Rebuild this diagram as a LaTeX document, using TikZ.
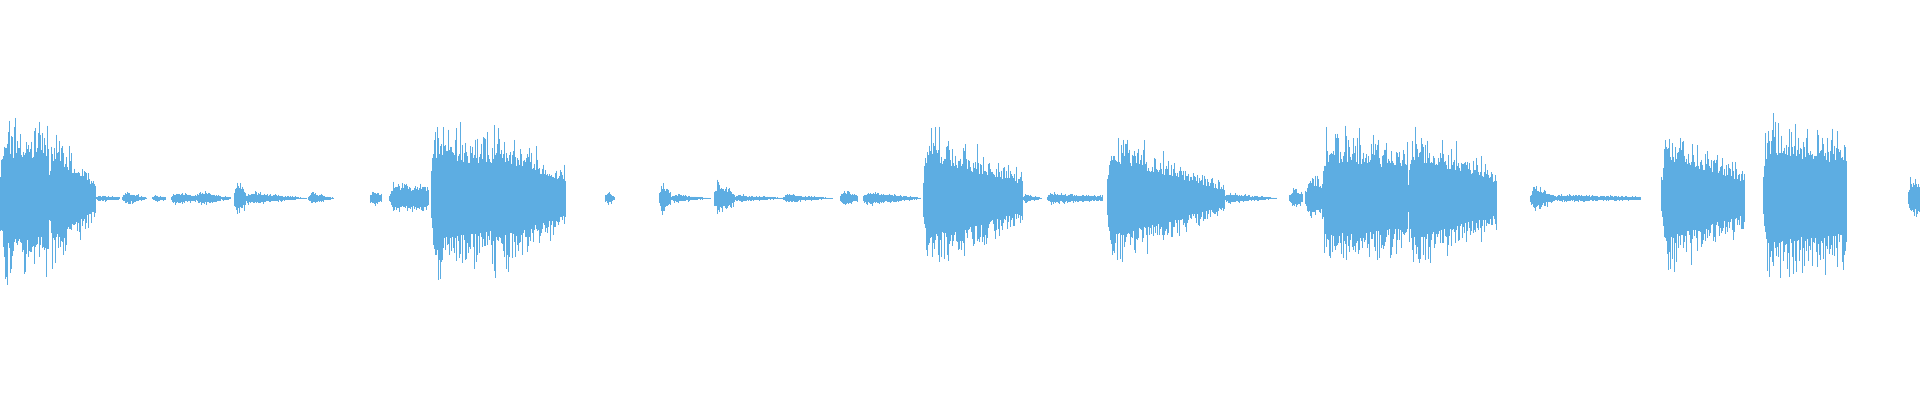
\documentclass[tikz,border=0pt]{standalone}
\definecolor{wave}{HTML}{5DADE2}
\begin{document}
\begin{tikzpicture}[x=1pt,y=1pt,wl/.style={draw=wave,line width=0.45pt}]
\useasboundingbox (0,-165) rectangle (1568,162);
\clip (0,-165) rectangle (1568,162);
\pgfmathsetseed{7}
\foreach \a/\b/\h/\d in {0/40/76/0.1,40/78/70/0.7,78/98/4/0.7,100/120/8/0.9,124/135/4/0.5,140/160/7/0.5,160/180/8/0.6,180/188/3/0.5,191/200/20/0.5,200/250/7/0.9,252/272/7/0.9,302/312/10/0.6,318/350/15/0.2,352/400/74/0.2,400/462/74/0.6,494/502/10/0.8,538/548/20/0.6,548/580/5/0.9,583/600/20/0.7,600/640/4/0.8,640/680/5/0.95,686/700/10/0.6,705/752/8/0.9,754/835/70/0.65,835/850/6/0.9,855/900/6/0.5,904/1000/68/0.8,1000/1042/6/0.9,1053/1064/12/0.5,1066/1080/25/0.3,1080/1150/66/0.2,1150/1222/72/0.6,1250/1270/15/0.8,1270/1340/4/0.5,1357/1425/72/0.6,1440/1508/78/0.2,1558/1570/22/0.3}{
  \draw[wl] (\a,0) -- (\b,0);
  \pgfmathtruncatemacro\n{(\b-\a)/0.6}
  \foreach \i in {0,...,\n}{
    \pgfmathsetmacro\x{\a+0.6*\i}
    \pgfmathsetmacro\e{\h*min(1,(\x-\a)/4+0.3)*(1-\d*(\x-\a)/(\b-\a))}
    \pgfmathsetmacro\u{\e*(0.45+0.55*rnd*rnd)}
    \pgfmathsetmacro\l{\e*(0.45+0.55*rnd*rnd)}
    \draw[wl] (\x,\u) -- (\x,-\l);
  }
}
\end{tikzpicture}
\end{document}
